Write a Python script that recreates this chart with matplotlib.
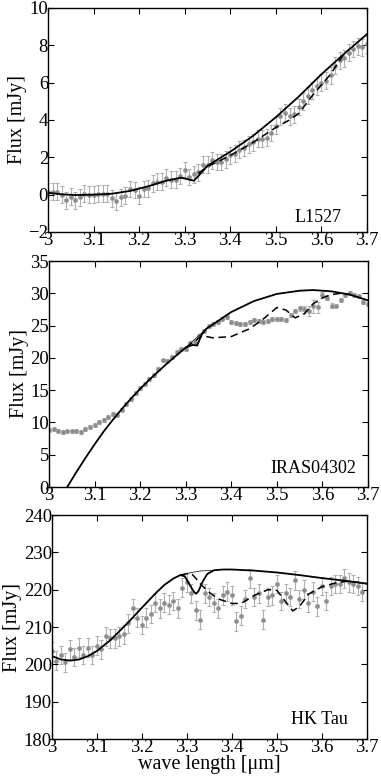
import numpy as np
import matplotlib
matplotlib.use("Agg")
import matplotlib.pyplot as plt

plt.rcParams['font.family'] = ['Liberation Serif', 'DejaVu Serif']
plt.rcParams['mathtext.fontset'] = 'stix'

# wavelength grid of the spectra (um)
wave = np.round(np.arange(3.00, 3.705, 0.01), 2)

# ---- L1527 ----
l1527_flux = [0.15, 0.15, 0.15, 0.0, -0.3, -0.1, -0.3, -0.15, 0.05, 0.0,
              0.0, 0.05, 0.05, 0.05, -0.2, -0.35, -0.15, -0.05, 0.3, 0.25,
              -0.05, 0.3, 0.35, 0.6, 0.7, 0.7, 0.9, 0.8, 0.8, 1.0,
              1.3, 0.95, 1.1, 1.2, 1.6, 1.6, 1.85, 1.75, 1.75, 1.9,
              2.1, 2.2, 2.4, 2.5, 2.7, 2.8, 3.0, 3.0, 3.05, 3.3,
              3.7, 4.2, 4.4, 4.2, 4.3, 4.7, 5.0, 5.3, 5.6, 5.8,
              6.0, 6.1, 6.4, 6.9, 7.2, 7.3, 7.6, 7.8, 7.95, 7.9, 8.05]
l1527_err = 0.45
l1527_mx = [3.00, 3.03, 3.06, 3.10, 3.14, 3.18, 3.22, 3.26, 3.29, 3.30, 3.31, 3.32,
            3.33, 3.35, 3.40, 3.45, 3.50, 3.55, 3.60, 3.65, 3.70]
l1527_model = [0.1, 0.02, -0.02, 0.0, 0.05, 0.2, 0.45, 0.75, 0.9, 0.88, 0.8, 0.75,
               1.0, 1.55, 2.3, 3.15, 4.15, 5.25, 6.45, 7.55, 8.6]
l1527_dx = [3.33, 3.35, 3.40, 3.45, 3.50, 3.53, 3.55, 3.58, 3.62, 3.65]
l1527_dash = [1.15, 1.5, 2.1, 2.8, 3.6, 4.0, 4.35, 5.3, 6.45, 7.55]

# ---- IRAS04302 ----
iras_flux = [8.8, 9.0, 8.7, 8.5, 8.6, 8.6, 8.7, 8.5, 9.0, 9.3,
             9.6, 10.0, 10.4, 10.8, 11.3, 11.2, 12.0, 12.8, 13.6, 14.5,
             15.3, 16.0, 16.7, 17.3, 18.3, 19.6, 19.5, 20.2, 20.9, 21.4,
             21.3, 22.3, 22.5, 23.4, 24.2, 25.0, 25.3, 25.6, 26.0, 26.3,
             25.5, 25.4, 25.2, 25.2, 25.5, 25.8, 25.7, 25.6, 25.7, 26.0,
             26.0, 26.0, 25.9, 26.6, 27.2, 27.7, 27.5, 27.3, 28.0, 27.8,
             29.7, 29.3, 28.1, 28.1, 29.0, 29.8, 30.0, 29.8, 29.6, 28.6, 28.4]
iras_err = [0.3] * 55 + [0.4, 0.6, 0.8, 1.0, 0.8, 0.5, 0.4, 0.4, 0.3, 0.3,
                         0.3, 0.3, 0.3, 0.3, 0.3, 0.3]
iras_mx = [3.04, 3.06, 3.08, 3.10, 3.12, 3.14, 3.16, 3.18, 3.20, 3.22, 3.24,
           3.26, 3.28, 3.30, 3.315, 3.325, 3.335, 3.345, 3.36, 3.40, 3.45,
           3.50, 3.55, 3.58, 3.62, 3.66, 3.70]
iras_model = [0.0, 2.3, 4.5, 6.6, 8.6, 10.4, 12.1, 13.7, 15.2, 16.6, 17.9,
              19.2, 20.4, 21.6, 22.0, 21.9, 23.6, 24.5, 25.2, 27.1, 28.8,
              29.9, 30.4, 30.5, 30.3, 29.8, 28.9]
iras_cx = [3.30, 3.345]
iras_cont = [21.6, 24.5]
iras_dx = [3.30, 3.32, 3.335, 3.345, 3.36, 3.40, 3.44, 3.47, 3.50, 3.52,
           3.54, 3.56, 3.58, 3.60, 3.62, 3.64, 3.66]
iras_dash = [21.6, 22.6, 23.4, 23.3, 23.1, 23.3, 24.5, 26.0, 27.8, 27.4,
             26.2, 26.8, 28.4, 29.3, 29.8, 30.0, 29.8]

# ---- HK Tau ----
hk_flux = [203.5, 201.0, 202.5, 200.5, 204.0, 202.0, 204.5, 202.5, 204.5, 202.5,
           205.0, 204.0, 207.5, 207.0, 207.0, 207.5, 208.0, 211.0, 215.0, 212.5,
           210.5, 212.5, 213.5, 216.5, 215.0, 216.5, 216.0, 217.0, 215.0, 220.5,
           222.0, 219.0, 214.5, 212.0, 219.0, 218.0, 216.5, 215.0, 218.5, 219.5,
           218.5, 211.5, 213.0, 217.5, 223.0, 218.0, 219.0, 212.0, 218.0, 218.5,
           221.5, 217.0, 219.0, 218.0, 222.5, 217.5, 220.0, 216.5, 219.5, 215.5,
           221.0, 217.0, 221.0, 221.5, 221.5, 223.0, 222.0, 221.5, 221.0, 219.5]
hk_err = 2.5
hk_mx = [3.00, 3.02, 3.04, 3.06, 3.08, 3.10, 3.13, 3.17, 3.20, 3.23, 3.25,
         3.27, 3.285, 3.295, 3.305, 3.315, 3.32, 3.325, 3.335, 3.345, 3.36,
         3.38, 3.40, 3.45, 3.50, 3.55, 3.60, 3.65, 3.70]
hk_model = [202.2, 201.3, 201.0, 201.3, 202.2, 203.6, 206.5, 211.3, 215.2, 219.0,
            221.3, 223.0, 223.9, 223.6, 221.5, 219.5, 218.9, 219.5, 222.2, 224.2,
            225.2, 225.4, 225.4, 225.1, 224.6, 223.9, 223.1, 222.4, 221.6]
hk_cx = [3.285, 3.31, 3.33, 3.36]
hk_cont = [223.9, 224.6, 225.0, 225.2]
hk_dx = [3.285, 3.30, 3.31, 3.32, 3.33, 3.35, 3.37, 3.40, 3.42, 3.45, 3.48,
         3.50, 3.52, 3.535, 3.55, 3.57, 3.60, 3.63, 3.66, 3.70]
hk_dash = [223.9, 224.3, 224.3, 223.0, 221.5, 219.2, 217.5, 216.3, 216.3, 218.5,
           220.0, 219.8, 216.6, 214.3, 215.5, 218.8, 220.8, 221.8, 222.3, 221.6]

panels = [
    dict(flux=l1527_flux, err=l1527_err, mx=l1527_mx, model=l1527_model,
         cx=None, cont=None, dx=l1527_dx, dash=l1527_dash,
         ylim=(-2, 10), yticks=np.arange(-2, 11, 2), name='L1527',
         namepos=(0.92, 0.0625),
         rect=[48/381, 1-232/777, 319/381, 224/777]),
    dict(flux=iras_flux, err=iras_err, mx=iras_mx, model=iras_model,
         cx=iras_cx, cont=iras_cont, dx=iras_dx, dash=iras_dash,
         ylim=(0, 35), yticks=np.arange(0, 36, 5), name='IRAS04302',
         namepos=(0.962, 0.084),
         rect=[49/381, 1-487/777, 319/381, 226/777]),
    dict(flux=hk_flux, err=hk_err, mx=hk_mx, model=hk_model,
         cx=hk_cx, cont=hk_cont, dx=hk_dx, dash=hk_dash,
         ylim=(180, 240), yticks=np.arange(180, 241, 10), name='HK Tau',
         namepos=(0.94, 0.085),
         rect=[52/381, 1-739/777, 315/381, 224/777]),
]

fig = plt.figure(figsize=(3.81, 7.77), dpi=100)
xt = [3.0, 3.1, 3.2, 3.3, 3.4, 3.5, 3.6, 3.7]
xtl = ['3', '3.1', '3.2', '3.3', '3.4', '3.5', '3.6', '3.7']

for i, p in enumerate(panels):
    ax = fig.add_axes(p['rect'])
    xs = wave[:len(p['flux'])]
    ax.errorbar(xs, p['flux'], yerr=p['err'], fmt='none', ecolor='#b0b0b0',
                elinewidth=0.8, capsize=1.5, capthick=0.8, zorder=1)
    ax.plot(xs, p['flux'], 'o', ms=2.8, mfc='#8a8a8a', mec='#9a9a9a', mew=0.6, zorder=2)
    if p['cx'] is not None:
        ax.plot(p['cx'], p['cont'], '-', color='k', lw=0.5, zorder=3)
    ax.plot(p['dx'], p['dash'], '--', color='k', lw=1.1, dashes=(5, 3), zorder=3)
    ax.plot(p['mx'], p['model'], '-', color='k', lw=1.3, zorder=4)
    ax.set_xlim(3.0, 3.7)
    ax.set_ylim(*p['ylim'])
    ax.set_xticks(xt)
    ax.set_xticklabels(xtl)
    ax.set_yticks(p['yticks'])
    ax.tick_params(direction='in', top=True, right=True, length=4, width=0.8,
                   labelsize=13.5, pad=0)
    for s in ax.spines.values():
        s.set_linewidth(1.0)
    ax.set_ylabel('Flux [mJy]', fontsize=14.5, labelpad=1)
    ax.text(p['namepos'][0], p['namepos'][1], p['name'], transform=ax.transAxes,
            ha='right', va='center', fontsize=13)
    if i == 2:
        ax.set_xlabel('wave length [μm]', fontsize=14.5, labelpad=-1)

fig.savefig('out.png', dpi=100)
